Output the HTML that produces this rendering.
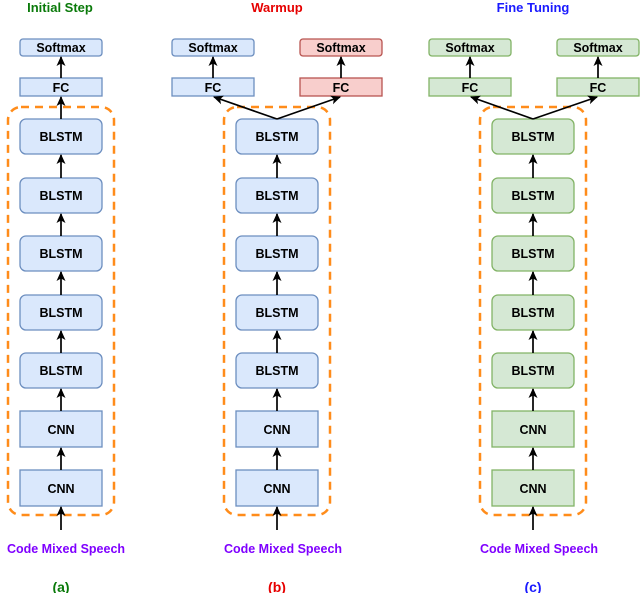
<!DOCTYPE html>
<html><head><style>body{margin:0;background:#fff}svg{display:block}text{font-family:"Liberation Sans",sans-serif;font-weight:bold;text-anchor:middle}</style></head><body>
<svg width="640" height="593" viewBox="0 0 640 593" xmlns="http://www.w3.org/2000/svg">
<defs><marker id="ar" markerWidth="10" markerHeight="10" refX="9" refY="5" orient="auto" markerUnits="userSpaceOnUse"><path d="M0,0.5 L10,5 L0,9.5 L2.5,5 z" fill="#000"/></marker></defs>
<g font-size="13">
<text x="60" y="12" fill="#0a7a0a">Initial Step</text>
<text x="277" y="12" fill="#e60000">Warmup</text>
<text x="533" y="12" fill="#1a1aff">Fine Tuning</text>
</g>
<g stroke="#ff8c1a" stroke-width="2.5" stroke-dasharray="8,6" fill="none">
<rect x="8" y="107" width="106" height="408" rx="13"/>
<rect x="224" y="107" width="106" height="408" rx="13"/>
<rect x="480" y="107" width="106" height="408" rx="13"/>
</g>
<g fill="#dae8fc" stroke="#6c8ebf" stroke-width="1.3">
<rect x="20" y="39" width="82" height="17" rx="3"/><rect x="20" y="78" width="82" height="18"/>
<rect x="20" y="119" width="82" height="35" rx="6"/><rect x="20" y="178" width="82" height="35" rx="6"/><rect x="20" y="236" width="82" height="35" rx="6"/><rect x="20" y="295" width="82" height="35" rx="6"/><rect x="20" y="353" width="82" height="35" rx="6"/>
<rect x="20" y="411" width="82" height="36"/><rect x="20" y="470" width="82" height="36"/>
<rect x="172" y="39" width="82" height="17" rx="3"/><rect x="172" y="78" width="82" height="18"/>
<rect x="236" y="119" width="82" height="35" rx="6"/><rect x="236" y="178" width="82" height="35" rx="6"/><rect x="236" y="236" width="82" height="35" rx="6"/><rect x="236" y="295" width="82" height="35" rx="6"/><rect x="236" y="353" width="82" height="35" rx="6"/>
<rect x="236" y="411" width="82" height="36"/><rect x="236" y="470" width="82" height="36"/>
</g>
<g fill="#f8cecc" stroke="#b85450" stroke-width="1.3">
<rect x="300" y="39" width="82" height="17" rx="3"/><rect x="300" y="78" width="82" height="18"/>
</g>
<g fill="#d5e8d4" stroke="#82b366" stroke-width="1.3">
<rect x="429" y="39" width="82" height="17" rx="3"/><rect x="429" y="78" width="82" height="18"/>
<rect x="557" y="39" width="82" height="17" rx="3"/><rect x="557" y="78" width="82" height="18"/>
<rect x="492" y="119" width="82" height="35" rx="6"/><rect x="492" y="178" width="82" height="35" rx="6"/><rect x="492" y="236" width="82" height="35" rx="6"/><rect x="492" y="295" width="82" height="35" rx="6"/><rect x="492" y="353" width="82" height="35" rx="6"/>
<rect x="492" y="411" width="82" height="36"/><rect x="492" y="470" width="82" height="36"/>
</g>
<g stroke="#000" stroke-width="1.7" marker-end="url(#ar)">
<line x1="61" y1="78" x2="61" y2="57"/><line x1="61" y1="119" x2="61" y2="97"/>
<line x1="61" y1="178" x2="61" y2="155"/><line x1="61" y1="236" x2="61" y2="214"/><line x1="61" y1="295" x2="61" y2="272"/><line x1="61" y1="353" x2="61" y2="331"/><line x1="61" y1="411" x2="61" y2="389"/><line x1="61" y1="470" x2="61" y2="448"/><line x1="61" y1="530" x2="61" y2="507"/>
<line x1="213" y1="78" x2="213" y2="57"/><line x1="341" y1="78" x2="341" y2="57"/>
<line x1="277" y1="119" x2="214" y2="97"/><line x1="277" y1="119" x2="340" y2="97"/>
<line x1="277" y1="178" x2="277" y2="155"/><line x1="277" y1="236" x2="277" y2="214"/><line x1="277" y1="295" x2="277" y2="272"/><line x1="277" y1="353" x2="277" y2="331"/><line x1="277" y1="411" x2="277" y2="389"/><line x1="277" y1="470" x2="277" y2="448"/><line x1="277" y1="530" x2="277" y2="507"/>
<line x1="470" y1="78" x2="470" y2="57"/><line x1="598" y1="78" x2="598" y2="57"/>
<line x1="533" y1="119" x2="471" y2="97"/><line x1="533" y1="119" x2="597" y2="97"/>
<line x1="533" y1="178" x2="533" y2="155"/><line x1="533" y1="236" x2="533" y2="214"/><line x1="533" y1="295" x2="533" y2="272"/><line x1="533" y1="353" x2="533" y2="331"/><line x1="533" y1="411" x2="533" y2="389"/><line x1="533" y1="470" x2="533" y2="448"/><line x1="533" y1="530" x2="533" y2="507"/>
</g>
<g font-size="12.5" fill="#000">
<text x="61" y="52">Softmax</text><text x="61" y="92">FC</text>
<text x="213" y="52">Softmax</text><text x="213" y="92">FC</text>
<text x="341" y="52">Softmax</text><text x="341" y="92">FC</text>
<text x="470" y="52">Softmax</text><text x="470" y="92">FC</text>
<text x="598" y="52">Softmax</text><text x="598" y="92">FC</text>
<text x="61" y="141">BLSTM</text><text x="61" y="200">BLSTM</text><text x="61" y="258">BLSTM</text><text x="61" y="317">BLSTM</text><text x="61" y="375">BLSTM</text><text x="61" y="434">CNN</text><text x="61" y="493">CNN</text>
<text x="277" y="141">BLSTM</text><text x="277" y="200">BLSTM</text><text x="277" y="258">BLSTM</text><text x="277" y="317">BLSTM</text><text x="277" y="375">BLSTM</text><text x="277" y="434">CNN</text><text x="277" y="493">CNN</text>
<text x="533" y="141">BLSTM</text><text x="533" y="200">BLSTM</text><text x="533" y="258">BLSTM</text><text x="533" y="317">BLSTM</text><text x="533" y="375">BLSTM</text><text x="533" y="434">CNN</text><text x="533" y="493">CNN</text>
</g>
<g font-size="12.5" fill="#7f00ff">
<text x="66" y="553">Code Mixed Speech</text><text x="283" y="553">Code Mixed Speech</text><text x="539" y="553">Code Mixed Speech</text>
</g>
<g font-size="14">
<text x="61" y="592" fill="#0a7a0a">(a)</text><text x="277" y="592" fill="#e60000">(b)</text><text x="533" y="592" fill="#1a1aff">(c)</text>
</g>
</svg>
</body></html>
